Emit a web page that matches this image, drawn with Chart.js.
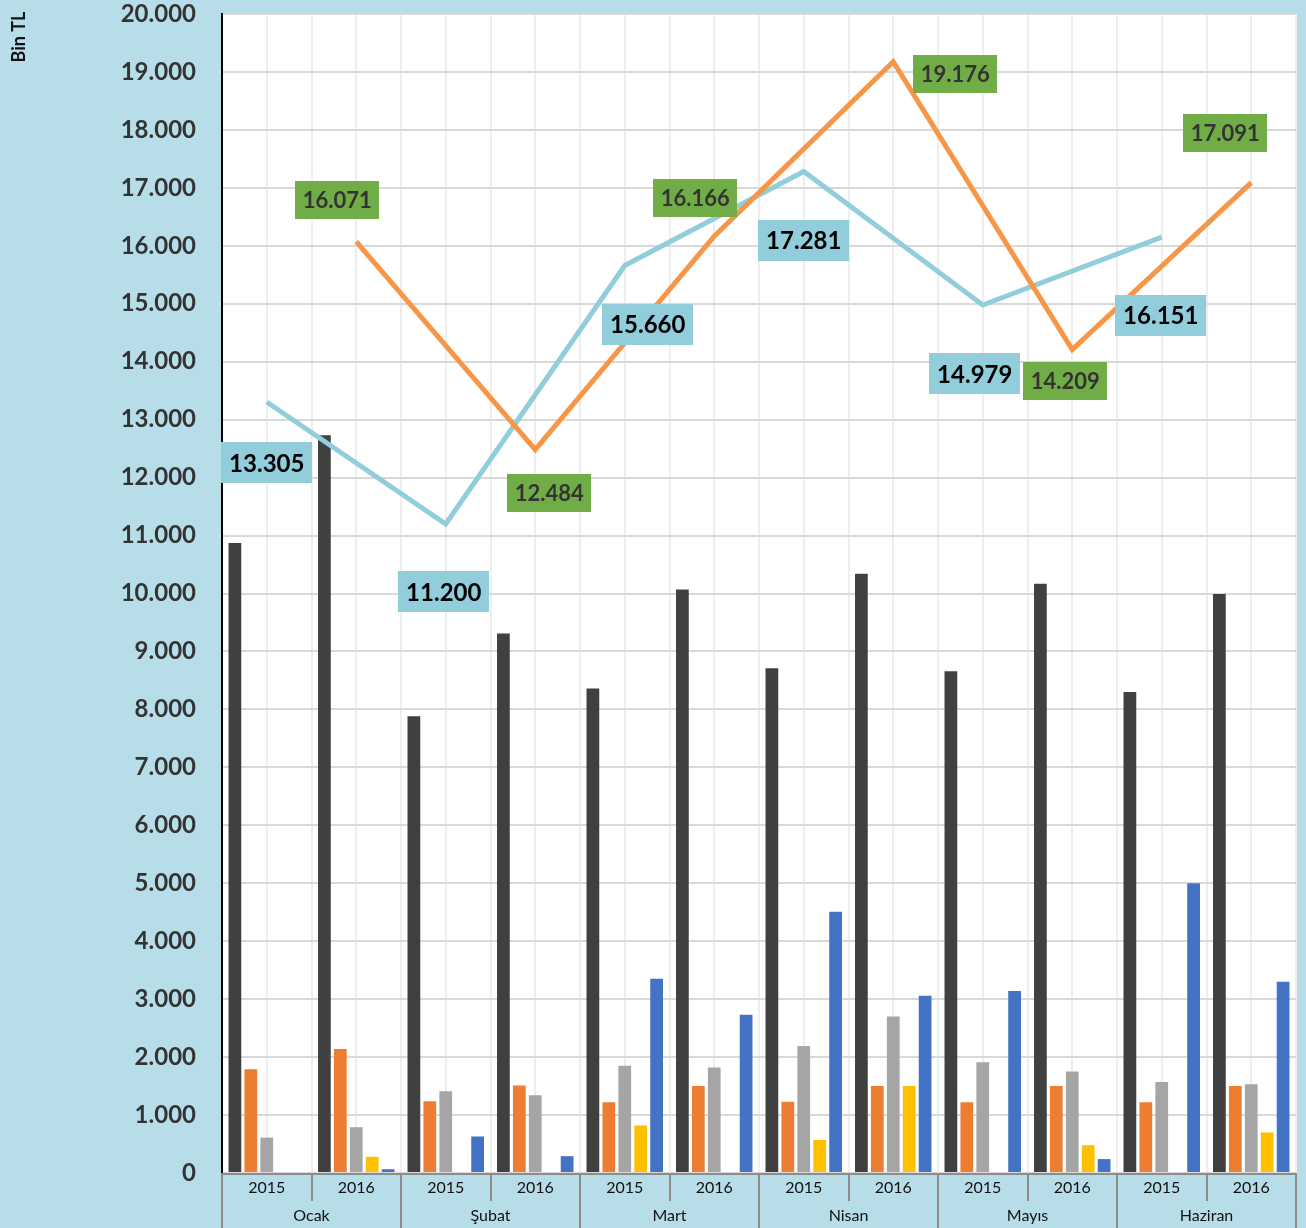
<!DOCTYPE html>
<html>
<head>
<meta charset="utf-8">
<script src="https://cdn.jsdelivr.net/npm/chart.js@4/dist/chart.umd.min.js"></script>
<style>
  html, body { margin: 0; padding: 0; background: #b7dde8; }
  canvas { display: block; }
</style>
</head>
<body>
<canvas id="chart" width="1306" height="1228"></canvas>
<script>
// categories
const months = ['Ocak', 'Şubat', 'Mart', 'Nisan', 'Mayıs', 'Haziran'];
const years = ['2015', '2016'];

// line series (Bin TL), one value per month
const line2015 = [13305, 11200, 15660, 17281, 14979, 16151];
const line2016 = [16071, 12484, 16166, 19176, 14209, 17091];

// bar series, one value per month/year (Ocak 2015, Ocak 2016, Şubat 2015, ...)
const barDark   = [10870, 12730, 7880, 9310, 8360, 10070, 8710, 10340, 8660, 10170, 8300, 9990];
const barOrange = [1790, 2140, 1240, 1510, 1220, 1500, 1230, 1500, 1220, 1500, 1220, 1500];
const barGray   = [610, 790, 1410, 1340, 1850, 1820, 2190, 2700, 1910, 1750, 1570, 1530];
const barYellow = [null, 280, null, null, 820, null, 570, 1500, null, 480, null, 700];
const barBlue   = [null, 65, 630, 290, 3350, 2730, 4510, 3060, 3140, 240, 5000, 3300];

// y axis ticks
const yMin = 0, yMax = 20000, yStep = 1000;

// label box offsets from their points (style only)
const offs2015 = [[0, 61], [-2, 68], [23, 59], [0, 69], [-8, 69], [-1, 78]];
const offs2016 = [[-19, -42], [14, 43], [-19, -38], [62, 12], [-7, 31], [-26, -50]];

const labels = [];
months.forEach(m => years.forEach(y => labels.push(m + ' ' + y)));

// put each line value on its own year slot, gaps elsewhere
let pts2015 = [], pts2016 = [];
months.forEach((m, i) => {
    pts2015.push(line2015[i], null);
    pts2016.push(null, line2016[i]);
});

const fmt = v => String(v).replace(/\B(?=(\d{3})+(?!\d))/g, '.');

const BG = '#b7dde8';
const FONT = 'Lato, "Open Sans", sans-serif';

const backdrop = {
    id: 'backdrop',
    beforeDraw(chart) {
        let ctx = chart.ctx, a = chart.chartArea, x = chart.scales.x;
        ctx.save();
        ctx.fillStyle = BG;
        ctx.fillRect(0, 0, chart.width, chart.height);
        ctx.fillStyle = '#fff';
        ctx.fillRect(a.left, a.top, a.right - a.left, a.bottom - a.top);
        // vertical grid at every half category
        let step = (x.getPixelForValue(1) - x.getPixelForValue(0)) / 2;
        ctx.strokeStyle = '#eeeeee';
        ctx.lineWidth = 2;
        for (let i = 1; i <= labels.length * 2; i++) {
            let px = Math.round(a.left + i * step);
            ctx.beginPath();
            ctx.moveTo(px, a.top);
            ctx.lineTo(px, a.bottom);
            ctx.stroke();
        }
        ctx.restore();
    }
};

const boxLabels = {
    id: 'boxLabels',
    afterDatasetsDraw(chart) {
        let ctx = chart.ctx;
        const specs = [
            { ds: 1, vals: line2015, offs: offs2015, fill: '#92cddc', color: '#000', w: 91, h: 41, size: 24, slot: 0 },
            { ds: 0, vals: line2016, offs: offs2016, fill: '#70ad47', color: '#333', w: 84, h: 38, size: 22, slot: 1 },
        ];
        ctx.save();
        specs.forEach(s => {
            let meta = chart.getDatasetMeta(s.ds);
            s.vals.forEach((v, i) => {
                let p = meta.data[i * 2 + s.slot];
                let cx = p.x + s.offs[i][0], cy = p.y + s.offs[i][1];
                ctx.fillStyle = s.fill;
                ctx.fillRect(Math.round(cx - s.w / 2), Math.round(cy - s.h / 2), s.w, s.h);
                ctx.fillStyle = s.color;
                ctx.font = 'bold ' + s.size + 'px ' + FONT;
                ctx.textAlign = 'center';
                ctx.textBaseline = 'middle';
                ctx.fillText(fmt(v), cx, cy + 1);
            });
        });
        ctx.restore();
    }
};

const axisLabels = {
    id: 'axisLabels',
    afterDraw(chart) {
        let ctx = chart.ctx, a = chart.chartArea, x = chart.scales.x;
        let half = (x.getPixelForValue(1) - x.getPixelForValue(0)) / 2;
        ctx.save();
        ctx.strokeStyle = '#8c8c8c';
        ctx.lineWidth = 2;
        ctx.beginPath();
        ctx.moveTo(a.left, a.bottom + 1);
        ctx.lineTo(a.right, a.bottom + 1);
        ctx.stroke();
        ctx.fillStyle = '#111';
        ctx.textAlign = 'center';
        ctx.textBaseline = 'middle';
        ctx.font = '16px ' + FONT;
        labels.forEach((l, i) => {
            let c = x.getPixelForValue(i);
            ctx.fillText(years[i % 2], c, a.bottom + 15);
            let edge = Math.round(c - half);
            ctx.beginPath();
            ctx.moveTo(edge, a.bottom);
            ctx.lineTo(edge, i % 2 === 0 ? chart.height : a.bottom + 28);
            ctx.stroke();
        });
        let r = Math.round(a.right);
        ctx.beginPath();
        ctx.moveTo(r, a.bottom);
        ctx.lineTo(r, chart.height);
        ctx.stroke();
        months.forEach((m, i) => {
            let c = (x.getPixelForValue(i * 2) + x.getPixelForValue(i * 2 + 1)) / 2;
            ctx.fillText(m, c, a.bottom + 43);
        });
        // axis title
        ctx.translate(19, 37);
        ctx.rotate(-Math.PI / 2);
        ctx.font = 'bold 18px ' + FONT;
        ctx.fillStyle = '#111';
        ctx.fillText('Bin TL', 0, 0);
        ctx.restore();
    }
};

const barCommon = { type: 'bar', categoryPercentage: 0.89, barPercentage: 0.8, order: 5 };

new Chart(document.getElementById('chart').getContext('2d'), {
    data: {
        labels: labels,
        datasets: [
            { type: 'line', label: '2016', data: pts2016, borderColor: '#f79646', borderWidth: 5,
              pointRadius: 0, spanGaps: true, order: 0 },
            { type: 'line', label: '2015', data: pts2015, borderColor: '#92cddc', borderWidth: 5,
              pointRadius: 0, spanGaps: true, order: 1 },
            { ...barCommon, label: 'A', data: barDark, backgroundColor: '#404040' },
            { ...barCommon, label: 'B', data: barOrange, backgroundColor: '#ed7d31' },
            { ...barCommon, label: 'C', data: barGray, backgroundColor: '#a5a5a5' },
            { ...barCommon, label: 'D', data: barYellow, backgroundColor: '#ffc000' },
            { ...barCommon, label: 'E', data: barBlue, backgroundColor: '#4472c4' },
        ],
    },
    options: {
        responsive: false,
        animation: false,
        devicePixelRatio: 1,
        layout: { padding: { top: 14, right: 10, left: 0, bottom: 0 } },
        plugins: { legend: { display: false }, tooltip: { enabled: false } },
        scales: {
            x: {
                grid: { display: false },
                border: { display: false },
                ticks: { display: false },
                afterFit: s => { s.height = 55; },
            },
            y: {
                min: yMin,
                max: yMax,
                grid: { color: '#d9d9d9', lineWidth: 2, drawTicks: false },
                border: { color: '#000', width: 2 },
                ticks: {
                    stepSize: yStep,
                    padding: 26,
                    color: '#333',
                    font: { family: FONT, size: 24, weight: 'bold' },
                    callback: v => fmt(v),
                },
                afterFit: s => { s.width = 222; s.paddingTop = 0; s.paddingBottom = 0; },
            },
        },
    },
    plugins: [backdrop, boxLabels, axisLabels],
});
</script>
</body>
</html>
